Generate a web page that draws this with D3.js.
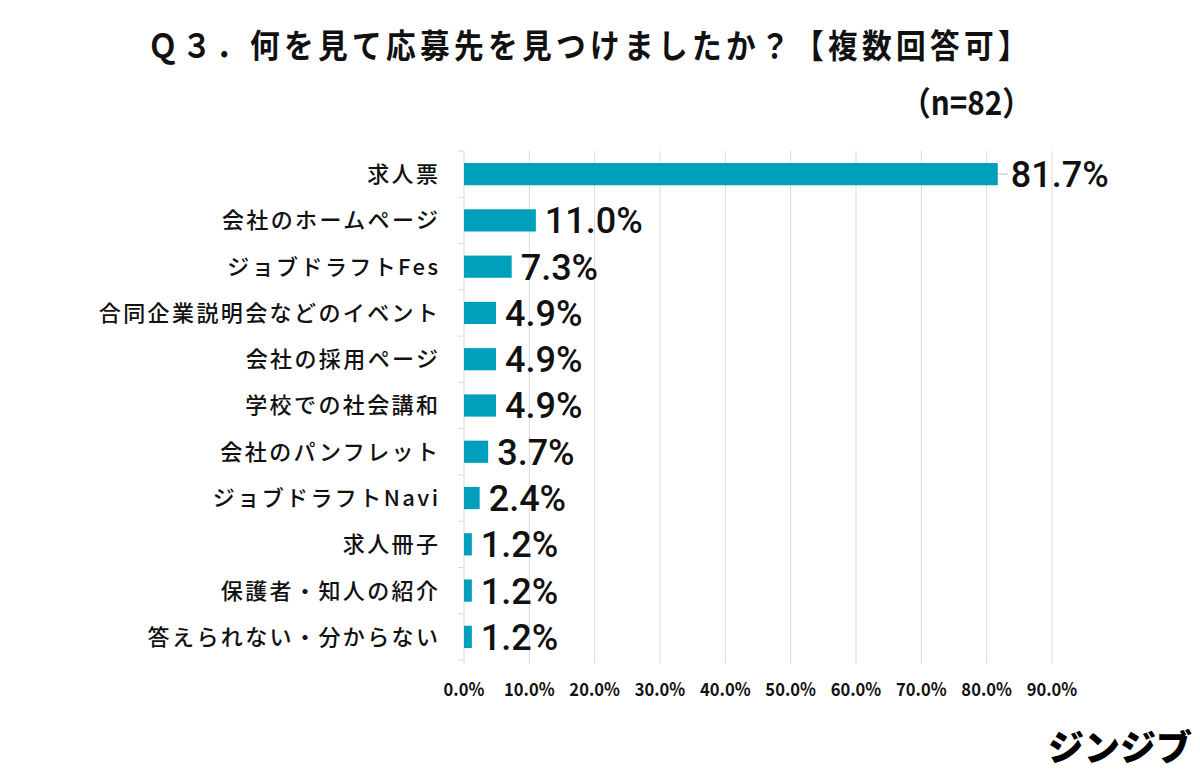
<!DOCTYPE html>
<html><head><meta charset="utf-8">
<script src="https://cdn.jsdelivr.net/npm/d3@7"></script>
<style>html,body{margin:0;padding:0;background:#fff}</style>
</head><body>
<script>
const categories = ["求人票","会社のホームページ","ジョブドラフトFes","合同企業説明会などのイベント","会社の採用ページ","学校での社会講和","会社のパンフレット","ジョブドラフトNavi","求人冊子","保護者・知人の紹介","答えられない・分からない"];
const values = [81.7,11.0,7.3,4.9,4.9,4.9,3.7,2.4,1.2,1.2,1.2];
const ticks = [0,10,20,30,40,50,60,70,80,90];
const title = "Ｑ３．何を見て応募先を見つけましたか？【複数回答可】";
const sampleText = "（n=82）";
const logoText = "ジンジブ";

const W=1200,H=783;
const svg=d3.select("body").append("svg").attr("width",W).attr("height",H);
svg.append("rect").attr("width",W).attr("height",H).attr("fill","#fff");
const jp="'Noto Sans CJK JP','Noto Sans',sans-serif";

const x=d3.scaleLinear().domain([0,90]).range([464,1052]);
const y=d3.scaleBand().domain(categories).range([151,660]).paddingInner(0.52).paddingOuter(0.26);
const yb=d3.scaleBand().domain(categories).range([151,660]);

svg.append("g").selectAll("line").data(ticks.slice(1)).join("line")
 .attr("x1",d=>x(d)).attr("x2",d=>x(d)).attr("y1",151).attr("y2",663)
 .attr("stroke","#d9d9d9").attr("stroke-width",1);
svg.append("line").attr("x1",x(0)).attr("x2",x(0)).attr("y1",151).attr("y2",663).attr("stroke","#d9d9d9");
svg.append("g").selectAll("line").data(categories.concat(["__end"])).join("line")
 .attr("x1",x(0)-6).attr("x2",x(0))
 .attr("y1",(d,i)=>151+i*yb.step()).attr("y2",(d,i)=>151+i*yb.step())
 .attr("stroke","#d9d9d9");

svg.append("g").selectAll("rect").data(values).join("rect")
 .attr("x",x(0)).attr("y",(d,i)=>y(categories[i])).attr("width",d=>x(d)-x(0)).attr("height",y.bandwidth())
 .attr("fill","#00a0bd");

svg.append("line").attr("x1",x(values[0])).attr("x2",x(values[0])+10)
 .attr("y1",y(categories[0])+y.bandwidth()/2).attr("y2",y(categories[0])+y.bandwidth()/2)
 .attr("stroke","#bfbfbf");

svg.append("g").selectAll("text").data(values).join("text")
 .attr("x",(d,i)=>x(d)+(i===0?13:9)).attr("y",(d,i)=>y(categories[i])+y.bandwidth()/2)
 .attr("dy","0.36em").attr("font-family","Roboto,'Noto Sans',sans-serif").attr("font-weight",500).attr("font-size",36)
 .attr("fill","#111").text(d=>d.toFixed(1)+"%");

svg.append("g").selectAll("text").data(categories).join("text")
 .attr("x",438).attr("y",d=>yb(d)+yb.bandwidth()/2)
 .attr("dy","0.36em").attr("text-anchor","end").attr("font-family",jp).attr("font-weight",500)
 .attr("font-size",22).attr("fill","#111")
 .style("letter-spacing","2.4px")
 .attr("dx",2.4)
 .text(d=>d);

svg.append("g").selectAll("text").data(ticks).join("text")
 .attr("transform",d=>`translate(${x(d)},690) scale(0.92,1)`)
 .attr("dy","0.36em").attr("text-anchor","middle")
 .attr("font-family",jp).attr("font-weight",700).attr("font-size",18).attr("fill","#111")
 .text(d=>d.toFixed(1)+"%");

svg.append("text").attr("transform","translate(590,46) scale(0.9,1)").attr("dy","0.36em").attr("text-anchor","middle")
 .attr("font-family",jp).attr("font-weight",700).attr("font-size",33).attr("fill","#111")
 .style("letter-spacing","4.8px").text(title);
svg.append("text").attr("transform","translate(1032,103) scale(0.9,1)").attr("dy","0.36em").attr("text-anchor","end")
 .attr("font-family",jp).attr("font-weight",700).attr("font-size",33).attr("fill","#111")
 .text(sampleText);
svg.append("text").attr("x",1192).attr("y",748).attr("dy","0.36em").attr("text-anchor","end")
 .attr("font-family",jp).attr("font-weight",900).attr("font-size",36).attr("fill","#000")
 .text(logoText);
</script>
</body></html>
